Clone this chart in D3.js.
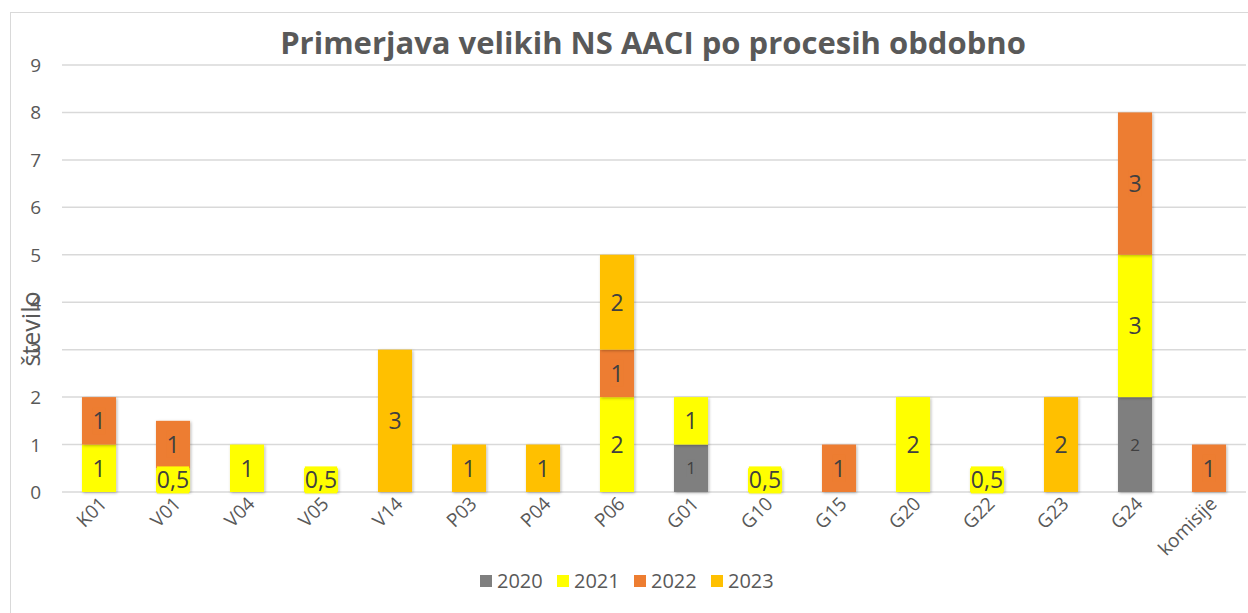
<!DOCTYPE html>
<html>
<head>
<meta charset="utf-8">
<script src="https://cdn.jsdelivr.net/npm/d3@7"></script>
<style>
  body { margin: 0; background: #fff; }
  svg { display: block; }
</style>
</head>
<body>
<script>
let w = 1248;
let h = 613;

let categories = ["K01", "V01", "V04", "V05", "V14", "P03", "P04", "P06", "G01", "G10", "G15", "G20", "G22", "G23", "G24", "komisije"];
let years = ["2020", "2021", "2022", "2023"];
let v2020 = [0, 0, 0, 0, 0, 0, 0, 0, 1, 0, 0, 0, 0, 0, 2, 0];
let v2021 = [1, 0.5, 1, 0.5, 0, 0, 0, 2, 1, 0.5, 0, 2, 0.5, 0, 3, 0];
let v2022 = [1, 1, 0, 0, 0, 0, 0, 1, 0, 0, 1, 0, 0, 0, 3, 1];
let v2023 = [0, 0, 0, 0, 3, 1, 1, 2, 0, 0, 0, 0, 0, 2, 0, 0];
let yTicks = [0, 1, 2, 3, 4, 5, 6, 7, 8, 9];
let colors = ["#7f7f7f", "#ffff00", "#ed7d31", "#ffc000"];

let rows = categories.map((c, i) => ({
    cat: c, "2020": v2020[i], "2021": v2021[i], "2022": v2022[i], "2023": v2023[i]
}));
let stacked = d3.stack().keys(years)(rows);

let font = "'Open Sans', sans-serif";

let xScale = d3.scaleBand()
    .domain(categories)
    .range([62, 1246])
    .paddingInner(0.54)
    .paddingOuter(0.27);

let yScale = d3.scaleLinear()
    .domain([0, 9])
    .range([492, 65]);

let color = d3.scaleOrdinal().domain(years).range(colors);

let svg = d3.select("body")
    .append("svg")
    .attr("width", w)
    .attr("height", h);

let defs = svg.append("defs");
let filt = defs.append("filter").attr("id", "shadow")
    .attr("x", "-30%").attr("y", "-10%").attr("width", "160%").attr("height", "120%");
filt.append("feDropShadow")
    .attr("dx", 1).attr("dy", 1).attr("stdDeviation", 1.5)
    .attr("flood-color", "#000").attr("flood-opacity", 0.3);

// chart border
svg.append("rect")
    .attr("x", 10.5).attr("y", 12.5)
    .attr("width", 1400).attr("height", 800)
    .attr("fill", "none")
    .attr("stroke", "#d9d9d9");

// gridlines
svg.append("g")
    .selectAll("line")
    .data(yTicks)
    .enter()
    .append("line")
    .attr("x1", 62).attr("x2", 1246)
    .attr("y1", d => yScale(d)).attr("y2", d => yScale(d))
    .attr("stroke", "#d9d9d9")
    .attr("stroke-width", 1.5);

// y tick labels
svg.append("g")
    .selectAll("text")
    .data(yTicks)
    .enter()
    .append("text")
    .text(d => d)
    .attr("x", 41)
    .attr("y", d => yScale(d) + 7)
    .attr("text-anchor", "end")
    .attr("font-family", font)
    .attr("font-size", "19px")
    .attr("fill", "#595959");

// bars
let layers = svg.append("g")
    .selectAll("g")
    .data(stacked)
    .enter()
    .append("g")
    .attr("fill", d => color(d.key));

layers.selectAll("rect")
    .data(d => d.filter(s => s[1] > s[0]))
    .enter()
    .append("rect")
    .attr("x", d => xScale(d.data.cat))
    .attr("y", d => yScale(d[1]))
    .attr("width", xScale.bandwidth())
    .attr("height", d => yScale(d[0]) - yScale(d[1]))
    .attr("filter", "url(#shadow)");

// value labels
let labelData = [];
stacked.forEach(layer => {
    layer.forEach(s => {
        if (s[1] > s[0]) labelData.push({key: layer.key, cat: s.data.cat, v: s[1] - s[0], y0: s[0], y1: s[1]});
    });
});

let labels = svg.append("g")
    .selectAll("g")
    .data(labelData)
    .enter()
    .append("g");

labels.append("text")
    .text(d => String(d.v).replace(".", ","))
    .attr("x", d => xScale(d.cat) + xScale.bandwidth() / 2)
    .attr("y", d => (yScale(d.y0) + yScale(d.y1)) / 2)
    .attr("dy", "0.36em")
    .attr("text-anchor", "middle")
    .attr("font-family", font)
    .attr("font-size", d => d.key === "2020" ? "17px" : "23px")
    .attr("fill", "#404040")
    .each(function (d) {
        let bb = this.getBBox();
        d3.select(this.parentNode).insert("rect", "text")
            .attr("x", bb.x)
            .attr("y", bb.y + 3)
            .attr("width", bb.width)
            .attr("height", bb.height - 5)
            .attr("fill", color(d.key));
    });

// x axis labels
svg.append("g")
    .selectAll("text")
    .data(categories)
    .enter()
    .append("text")
    .text(d => d)
    .attr("transform", d => `translate(${xScale(d) + xScale.bandwidth() / 2 + 9},${505}) rotate(-45)`)
    .attr("text-anchor", "end")
    .attr("font-family", font)
    .attr("font-size", "19px")
    .attr("fill", "#595959");

// y axis title
svg.append("text")
    .text("število")
    .attr("transform", "translate(40,329) rotate(-90)")
    .attr("text-anchor", "middle")
    .attr("font-family", font)
    .attr("font-size", "25px")
    .attr("fill", "#595959");

// title
svg.append("text")
    .text("Primerjava velikih NS AACI po procesih obdobno")
    .attr("x", 653)
    .attr("y", 54)
    .attr("text-anchor", "middle")
    .attr("font-family", font)
    .attr("font-weight", "bold")
    .attr("font-size", "31px")
    .attr("fill", "#595959");

// legend
let legend = svg.append("g")
    .selectAll("g")
    .data(years)
    .enter()
    .append("g")
    .attr("transform", (d, i) => `translate(${480 + i * 77},575)`);

legend.append("rect")
    .attr("width", 12).attr("height", 12)
    .attr("fill", d => color(d));

legend.append("text")
    .text(d => d)
    .attr("x", 17)
    .attr("y", 13)
    .attr("font-family", font)
    .attr("font-size", "20px")
    .attr("fill", "#595959");
</script>
</body>
</html>
